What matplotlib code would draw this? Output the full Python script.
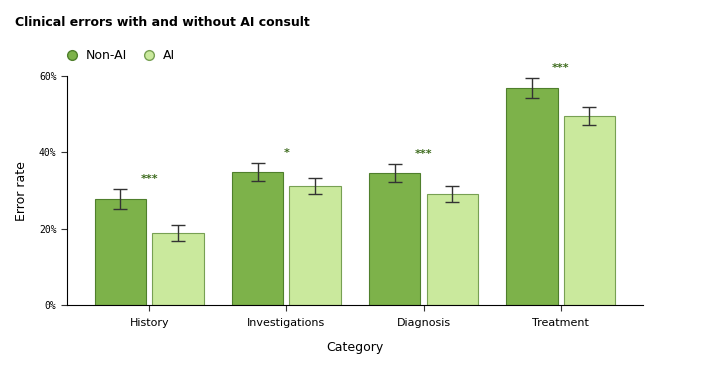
import numpy as np
import matplotlib.pyplot as plt
from matplotlib.lines import Line2D

categories = ["History", "Investigations", "Diagnosis", "Treatment"]
non_ai = [27.8, 34.8, 34.6, 56.9]
non_ai_err = [2.5, 2.4, 2.4, 2.5]
ai = [18.9, 31.2, 29.1, 49.5]
ai_err = [2.0, 2.1, 2.2, 2.4]
stars = ["***", "*", "***", "***"]

c_non = "#7db24a"
c_non_edge = "#4f7f2c"
c_ai = "#cae99d"
c_ai_edge = "#77a053"
c_star = "#3c6a1c"

fig = plt.figure(figsize=(7.05, 3.68), dpi=100)
ax = fig.add_axes([0.095, 0.171, 0.817, 0.622])

x = np.arange(len(categories))
w = 0.375
off = 0.21
ax.bar(x - off, non_ai, w, color=c_non, edgecolor=c_non_edge, linewidth=0.8,
       yerr=non_ai_err, error_kw=dict(ecolor="#333333", elinewidth=1, capsize=5, capthick=1))
ax.bar(x + off, ai, w, color=c_ai, edgecolor=c_ai_edge, linewidth=0.8,
       yerr=ai_err, error_kw=dict(ecolor="#333333", elinewidth=1, capsize=5, capthick=1))

for i, s in enumerate(stars):
    top = max(non_ai[i] + non_ai_err[i], ai[i] + ai_err[i])
    ax.text(x[i], top + 1.4, s, ha="center", va="bottom", color=c_star,
            fontsize=8, fontweight="bold")

ax.set_xlim(-0.6, 3.6)
ax.set_ylim(0, 60)
ax.set_yticks([0, 20, 40, 60])
ax.set_yticklabels(["0%", "20%", "40%", "60%"], fontsize=7, family="DejaVu Sans Mono")
ax.set_xticks(x)
ax.set_xticklabels(categories, fontsize=8)
ax.tick_params(length=4, width=0.8, color="#333333")
ax.tick_params(axis="x", pad=5)
for sp in ["top", "right"]:
    ax.spines[sp].set_visible(False)
ax.set_xlabel("Category", fontsize=9, labelpad=10)
ax.set_ylabel("Error rate", fontsize=9, labelpad=8)

fig.text(0.021, 0.94, "Clinical errors with and without AI consult", fontsize=9,
         fontweight="bold", va="center")

handles = [
    Line2D([], [], marker="o", linestyle="", markersize=7, markerfacecolor=c_non, markeredgecolor=c_non_edge, label="Non-AI"),
    Line2D([], [], marker="o", linestyle="", markersize=7, markerfacecolor=c_ai, markeredgecolor=c_ai_edge, label="AI"),
]
fig.legend(handles=handles, loc="center left", bbox_to_anchor=(0.068, 0.848), ncol=2,
           frameon=False, fontsize=9, handletextpad=0.1, columnspacing=0.8)

fig.savefig("out.png", dpi=100)
